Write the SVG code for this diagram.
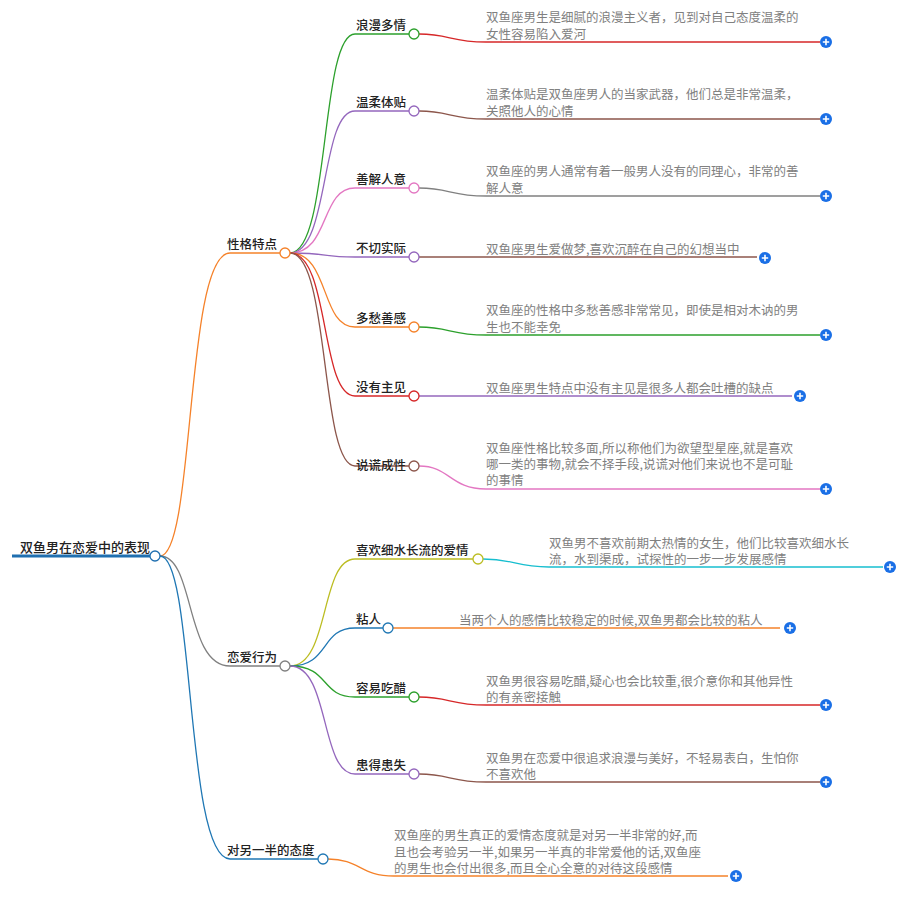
<svg xmlns="http://www.w3.org/2000/svg" width="911" height="898" viewBox="0 0 911 898">
<style>
.l{font-family:"Noto Sans CJK SC",sans-serif;font-size:12.5px;fill:#222;font-weight:500}
.t{font-family:"Noto Sans CJK SC",sans-serif;font-size:12.5px;fill:#808080}
.c{fill:none;stroke-width:1.3}
.n{fill:#fff;stroke-width:1.3}
</style>
<defs>
<g id="plus"><circle r="6" fill="#1a6fe6"/><path d="M-3.2 0H3.2M0 -3.2V3.2" stroke="#fff" stroke-width="1.6"/></g>
</defs>
<g id="connectors">
<path class="c" stroke="#f5822a" d="M160 556C195 556 185 253 230 253H280"/>
<path class="c" stroke="#808080" d="M160 556C195 556 185 666 230 666H280"/>
<path class="c" stroke="#1f77b4" d="M160 556C195 556 185 859 230 859H318"/>
<path class="c" stroke="#2ca02c" d="M290 253C330 253 320 34 355 34H409"/>
<path class="c" stroke="#9467bd" d="M290 253C330 253 320 111 355 111H409"/>
<path class="c" stroke="#e377c2" d="M290 253C330 253 320 188 355 188H409"/>
<path class="c" stroke="#9467bd" d="M290 253C330 253 320 257 355 257H409"/>
<path class="c" stroke="#f5822a" d="M290 253C330 253 320 327 355 327H409"/>
<path class="c" stroke="#d62728" d="M290 253C330 253 320 396 355 396H409"/>
<path class="c" stroke="#8c564b" d="M290 253C330 253 320 466 355 466H409"/>
<path class="c" stroke="#d62728" d="M419 34C450 34 450 42 486 42H820"/>
<path class="c" stroke="#8c564b" d="M419 111C450 111 450 119 486 119H820"/>
<path class="c" stroke="#808080" d="M419 188C450 188 450 196 486 196H820"/>
<path class="c" stroke="#8c564b" d="M419 257H757"/>
<path class="c" stroke="#2ca02c" d="M419 327C450 327 450 335 486 335H820"/>
<path class="c" stroke="#9467bd" d="M419 396H792"/>
<path class="c" stroke="#e377c2" d="M419 466C450 466 450 489 486 489H820"/>
<path class="c" stroke="#bcbd22" d="M290 666C330 666 320 559 355 559H473"/>
<path class="c" stroke="#1f77b4" d="M290 666C330 666 320 628 355 628H383"/>
<path class="c" stroke="#2ca02c" d="M290 666C330 666 320 697 355 697H409"/>
<path class="c" stroke="#9467bd" d="M290 666C330 666 320 774 355 774H409"/>
<path class="c" stroke="#17becf" d="M483 559C515 559 515 567 549 567H883"/>
<path class="c" stroke="#f5822a" d="M393 628H780"/>
<path class="c" stroke="#d62728" d="M419 697C450 697 450 705 486 705H820"/>
<path class="c" stroke="#8c564b" d="M419 774C450 774 450 782 486 782H820"/>
<path class="c" stroke="#f5822a" d="M328 859C360 859 360 876 394 876H728"/>
<path fill="none" stroke="#1f6fb0" stroke-width="3" d="M12 556H150"/>
</g>
<g id="root"><text class="l" x="20" y="552" style="font-size:13px">双鱼男在恋爱中的表现</text><circle class="n" cx="155" cy="556" r="5" stroke="#1f6fb0"/></g>
<g id="n1"><text class="l" x="227" y="249">性格特点</text><circle class="n" cx="285" cy="253" r="5" stroke="#f5822a"/></g>
<g id="n2"><text class="l" x="227" y="662">恋爱行为</text><circle class="n" cx="285" cy="666" r="5" stroke="#808080"/></g>
<g id="n3"><text class="l" x="227" y="855">对另一半的态度</text><circle class="n" cx="323" cy="859" r="5" stroke="#1f77b4"/></g>
<g id="a1"><text class="l" x="356" y="30">浪漫多情</text><circle class="n" cx="414" cy="34" r="5" stroke="#2ca02c"/></g>
<g id="a2"><text class="l" x="356" y="107">温柔体贴</text><circle class="n" cx="414" cy="111" r="5" stroke="#9467bd"/></g>
<g id="a3"><text class="l" x="356" y="184">善解人意</text><circle class="n" cx="414" cy="188" r="5" stroke="#e377c2"/></g>
<g id="a4"><text class="l" x="356" y="253">不切实际</text><circle class="n" cx="414" cy="257" r="5" stroke="#9467bd"/></g>
<g id="a5"><text class="l" x="356" y="323">多愁善感</text><circle class="n" cx="414" cy="327" r="5" stroke="#f5822a"/></g>
<g id="a6"><text class="l" x="356" y="392">没有主见</text><circle class="n" cx="414" cy="396" r="5" stroke="#d62728"/></g>
<g id="a7"><text class="l" x="356" y="470">说谎成性</text><circle class="n" cx="414" cy="466" r="5" stroke="#8c564b"/></g>
<g id="b1"><text class="l" x="356" y="555">喜欢细水长流的爱情</text><circle class="n" cx="478" cy="559" r="5" stroke="#bcbd22"/></g>
<g id="b2"><text class="l" x="356" y="624">粘人</text><circle class="n" cx="388" cy="628" r="5" stroke="#1f77b4"/></g>
<g id="b3"><text class="l" x="356" y="693">容易吃醋</text><circle class="n" cx="414" cy="697" r="5" stroke="#2ca02c"/></g>
<g id="b4"><text class="l" x="356" y="770">患得患失</text><circle class="n" cx="414" cy="774" r="5" stroke="#9467bd"/></g>
<g id="t1"><text class="t" x="486" y="22">双鱼座男生是细腻的浪漫主义者，见到对自己态度温柔的</text><text class="t" x="486" y="39">女性容易陷入爱河</text><use href="#plus" x="826" y="42"/></g>
<g id="t2"><text class="t" x="486" y="99">温柔体贴是双鱼座男人的当家武器，他们总是非常温柔，</text><text class="t" x="486" y="116">关照他人的心情</text><use href="#plus" x="826" y="119"/></g>
<g id="t3"><text class="t" x="486" y="176">双鱼座的男人通常有着一般男人没有的同理心，非常的善</text><text class="t" x="486" y="193">解人意</text><use href="#plus" x="826" y="196"/></g>
<g id="t4"><text class="t" x="486" y="254">双鱼座男生爱做梦,喜欢沉醉在自己的幻想当中</text><use href="#plus" x="765" y="258"/></g>
<g id="t5"><text class="t" x="486" y="315">双鱼座的性格中多愁善感非常常见，即使是相对木讷的男</text><text class="t" x="486" y="332">生也不能幸免</text><use href="#plus" x="826" y="335"/></g>
<g id="t6"><text class="t" x="486" y="393">双鱼座男生特点中没有主见是很多人都会吐槽的缺点</text><use href="#plus" x="800" y="396"/></g>
<g id="t7"><text class="t" x="486" y="453">双鱼座性格比较多面,所以称他们为欲望型星座,就是喜欢</text><text class="t" x="486" y="469">哪一类的事物,就会不择手段,说谎对他们来说也不是可耻</text><text class="t" x="486" y="485">的事情</text><use href="#plus" x="826" y="489"/></g>
<g id="t8"><text class="t" x="549" y="548">双鱼男不喜欢前期太热情的女生，他们比较喜欢细水长</text><text class="t" x="549" y="564">流，水到渠成，试探性的一步一步发展感情</text><use href="#plus" x="890" y="567"/></g>
<g id="t9"><text class="t" x="459" y="625">当两个人的感情比较稳定的时候,双鱼男都会比较的粘人</text><use href="#plus" x="790" y="628"/></g>
<g id="t10"><text class="t" x="486" y="686">双鱼男很容易吃醋,疑心也会比较重,很介意你和其他异性</text><text class="t" x="486" y="702">的有亲密接触</text><use href="#plus" x="826" y="705"/></g>
<g id="t11"><text class="t" x="486" y="763">双鱼男在恋爱中很追求浪漫与美好，不轻易表白，生怕你</text><text class="t" x="486" y="779">不喜欢他</text><use href="#plus" x="826" y="782"/></g>
<g id="t12"><text class="t" x="394" y="840">双鱼座的男生真正的爱情态度就是对另一半非常的好,而</text><text class="t" x="394" y="857">且也会考验另一半,如果另一半真的非常爱他的话,双鱼座</text><text class="t" x="394" y="873">的男生也会付出很多,而且全心全意的对待这段感情</text><use href="#plus" x="736" y="876"/></g>
</svg>
